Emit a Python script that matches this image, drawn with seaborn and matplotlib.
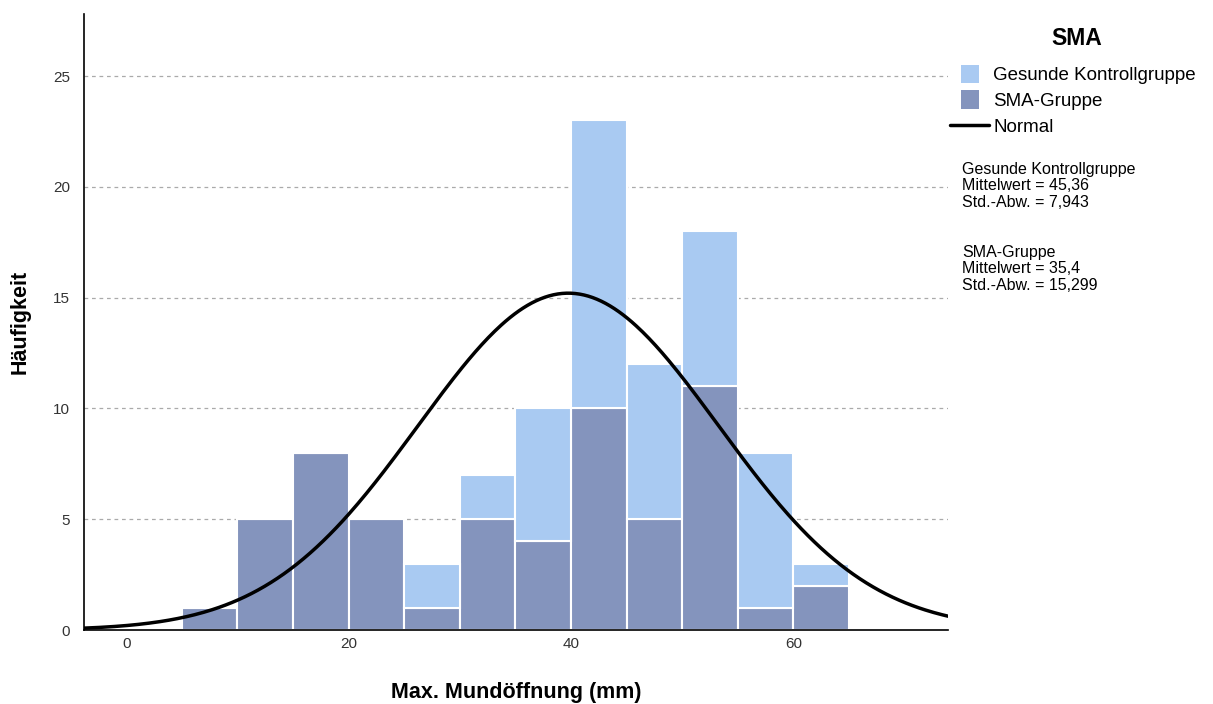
import numpy as np
import pandas as pd
import matplotlib.pyplot as plt
import seaborn as sns
from matplotlib.patches import Patch, Rectangle
from matplotlib.lines import Line2D
from matplotlib.legend_handler import HandlerPatch

# bin edges (mm) and counts per group
bin_edges = [5, 10, 15, 20, 25, 30, 35, 40, 45, 50, 55, 60, 65]
bin_centers = [7.5, 12.5, 17.5, 22.5, 27.5, 32.5, 37.5, 42.5, 47.5, 52.5, 57.5, 62.5]
sma_counts = [1, 5, 8, 5, 1, 5, 4, 10, 5, 11, 1, 2]
kontroll_counts = [0, 0, 0, 0, 2, 2, 6, 13, 7, 7, 7, 1]

# group stats shown in the chart
kontroll_n, kontroll_mean, kontroll_sd = 45, 45.36, 7.943
sma_n, sma_mean, sma_sd = 58, 35.4, 15.299

group_names = ["Gesunde Kontrollgruppe", "SMA-Gruppe"]
colors = {"Gesunde Kontrollgruppe": "#a9caf2", "SMA-Gruppe": "#8494bd"}

df = pd.DataFrame({
    "x": bin_centers * 2,
    "count": kontroll_counts + sma_counts,
    "group": [group_names[0]] * len(bin_centers) + [group_names[1]] * len(bin_centers),
})

sns.set_style("white")
plt.rcParams["font.family"] = ["Liberation Sans", "DejaVu Sans"]
plt.rcParams["text.color"] = "black"
plt.rcParams["axes.labelcolor"] = "black"

fig = plt.figure(figsize=(12.13, 7.04), dpi=100)
ax = fig.add_axes([0.0693, 0.1051, 0.7122, 0.875])

sns.histplot(data=df, x="x", weights="count", hue="group", hue_order=group_names,
             multiple="stack", bins=bin_edges, palette=colors, alpha=1,
             edgecolor="white", linewidth=1.5, legend=False, ax=ax, zorder=2)

# normal curve for pooled sample
n_total = kontroll_n + sma_n
mean_all = (kontroll_n * kontroll_mean + sma_n * sma_mean) / n_total
ss = ((kontroll_n - 1) * kontroll_sd ** 2 + (sma_n - 1) * sma_sd ** 2
      + kontroll_n * (kontroll_mean - mean_all) ** 2 + sma_n * (sma_mean - mean_all) ** 2)
sd_all = np.sqrt(ss / (n_total - 1))
xs = np.linspace(-4, 74, 400)
ys = n_total * 5 / (sd_all * np.sqrt(2 * np.pi)) * np.exp(-0.5 * ((xs - mean_all) / sd_all) ** 2)
sns.lineplot(x=xs, y=ys, color="black", linewidth=2.5, ax=ax, zorder=3)

ax.set_xlim(-3.8, 73.9)
ax.set_ylim(0, 27.8)
ax.set_xticks([0, 20, 40, 60])
ax.set_yticks([0, 5, 10, 15, 20, 25])
for yv in [5, 10, 15, 20, 25]:
    ax.axhline(yv, color="#aaaaaa", linestyle=(0, (3, 3)), linewidth=0.9, zorder=1)
ax.tick_params(axis="x", length=0, labelsize=11, colors="#333333", pad=5)
ax.tick_params(axis="y", length=0, labelsize=11, colors="#333333", pad=10)
ax.set_xlabel("Max. Mundöffnung (mm)", fontsize=15.5, fontweight="bold", labelpad=22)
ax.set_ylabel("Häufigkeit", fontsize=15.5, fontweight="bold", labelpad=16)
for side in ["top", "right"]:
    ax.spines[side].set_visible(False)
for side in ["left", "bottom"]:
    ax.spines[side].set_color("black")
    ax.spines[side].set_linewidth(1.2)


def square_patch(legend, orig_handle, xdescent, ydescent, width, height, fontsize):
    side = height * 1.4
    return Rectangle((width / 2 - side / 2 - xdescent, height / 2 - side / 2 - ydescent), side, side)


handles = [Patch(facecolor=colors[g], edgecolor="none") for g in group_names]
handles.append(Line2D([0], [0], color="black", linewidth=2.5))
leg = fig.legend(handles, group_names + ["Normal"], loc="upper left",
                 bbox_to_anchor=(0.777, 0.915), frameon=False, fontsize=13.5,
                 handlelength=2.1, handletextpad=0.2, labelspacing=0.45, borderaxespad=0,
                 handler_map={Patch: HandlerPatch(patch_func=square_patch)})
fig.text(0.888, 0.945, "SMA", fontsize=16.5, fontweight="bold", ha="center", va="center")

fig.text(0.793, 0.770, "Gesunde Kontrollgruppe\nMittelwert = 45,36\nStd.-Abw. = 7,943",
         fontsize=11.5, va="top", linespacing=1.12)
fig.text(0.793, 0.652, "SMA-Gruppe\nMittelwert = 35,4\nStd.-Abw. = 15,299",
         fontsize=11.5, va="top", linespacing=1.12)

fig.savefig("out.png", dpi=100)
